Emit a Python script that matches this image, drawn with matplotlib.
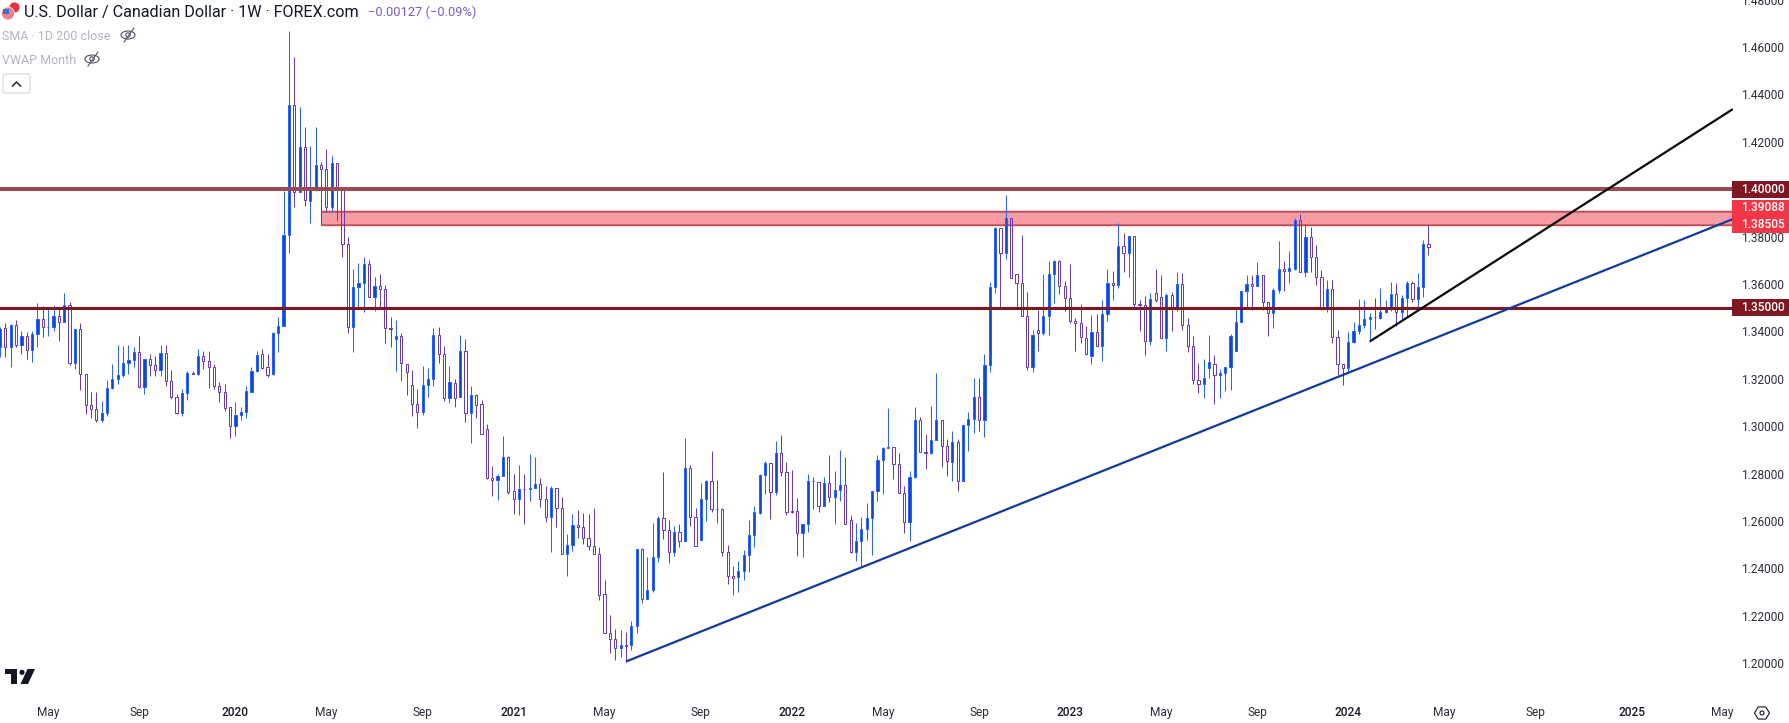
import numpy as np
import matplotlib as m
m.use('Agg')
import matplotlib.pyplot as plt
from matplotlib.patches import Rectangle, Circle, Ellipse, Polygon, FancyBboxPatch
from matplotlib.lines import Line2D
from matplotlib.transforms import Affine2D

plt.rcParams['font.family'] = ['Roboto', 'DejaVu Sans']

# weekly candles, USD/CAD
opens = [
    1.3333,1.3414,1.3333,1.3428,1.3344,1.3382,1.3321,1.3389,1.3452,1.3417,
    1.3420,1.3466,1.3438,1.3511,1.3265,1.3410,1.3220,1.3089,1.3072,1.3026,
    1.3056,1.3160,1.3199,1.3216,1.3265,1.3279,1.3314,1.3164,1.3283,1.3258,
    1.3237,1.3309,1.3192,1.3125,1.3054,1.3140,1.3224,1.3220,1.3297,1.3276,
    1.3251,1.3171,1.3143,1.3079,1.3001,1.3047,1.3058,1.3146,1.3231,1.3304,
    1.3251,1.3220,1.3393,1.3421,1.3807,1.4355,1.3987,1.4179,1.3951,1.3996,
    1.4102,1.4085,1.3923,1.4110,1.4004,1.3769,1.3417,1.3587,1.3604,1.3684,
    1.3544,1.3591,1.3579,1.3414,1.3366,1.3380,1.3262,1.3174,1.3094,1.3058,
    1.3174,1.3199,1.3385,1.3304,1.3119,1.3182,1.3123,1.3317,1.3056,1.3131,
    1.3094,1.2987,1.2781,1.2771,1.2789,1.2869,1.2726,1.2692,1.2736,1.2734,
    1.2738,1.2755,1.2692,1.2616,1.2738,1.2653,1.2460,1.2498,1.2582,1.2574,
    1.2527,1.2494,1.2460,1.2291,1.2127,1.2101,1.2063,1.2076,1.2076,1.2156,
    1.2481,1.2270,1.2307,1.2447,1.2612,1.2561,1.2468,1.2553,1.2515,1.2823,
    1.2616,1.2520,1.2692,1.2768,1.2651,1.2650,1.2468,1.2367,1.2363,1.2388,
    1.2456,1.2540,1.2634,1.2792,1.2844,1.2722,1.2886,1.2806,1.2641,1.2641,
    1.2551,1.2587,1.2769,1.2764,1.2665,1.2760,1.2700,1.2730,1.2751,1.2603,
    1.2470,1.2515,1.2565,1.2612,1.2726,1.2857,1.2906,1.2911,1.2840,1.2717,
    1.2595,1.2785,1.3025,1.2890,1.2886,1.2941,1.3025,1.2916,1.2849,1.2933,
    1.2769,1.3005,1.3030,1.3123,1.3026,1.3258,1.3587,1.3836,1.3731,1.3878,
    1.3642,1.3604,1.3465,1.3250,1.3406,1.3392,1.3465,1.3642,1.3697,1.3591,
    1.3541,1.3444,1.3435,1.3372,1.3296,1.3397,1.3338,1.3473,1.3604,1.3596,
    1.3760,1.3731,1.3802,1.3517,1.3511,1.3359,1.3562,1.3545,1.3372,1.3553,
    1.3494,1.3600,1.3427,1.3338,1.3195,1.3178,1.3245,1.3262,1.3216,1.3224,
    1.3250,1.3317,1.3440,1.3570,1.3598,1.3591,1.3638,1.3523,1.3476,1.3575,
    1.3664,1.3655,1.3664,1.3870,1.3649,1.3798,1.3712,1.3629,1.3493,1.3579,
    1.3376,1.3261,1.3244,1.3355,1.3402,1.3427,1.3452,1.3462,1.3456,1.3482,
    1.3503,1.3558,1.3480,1.3541,1.3604,1.3535,1.3586,1.3769]
highs = [
    1.3417,1.3435,1.3431,1.3449,1.3403,1.3396,1.3403,1.3521,1.3508,1.3504,
    1.3513,1.3504,1.3563,1.3525,1.3410,1.3434,1.3220,1.3143,1.3143,1.3108,
    1.3196,1.3262,1.3342,1.3337,1.3344,1.3333,1.3382,1.3283,1.3304,1.3297,
    1.3342,1.3342,1.3237,1.3136,1.3157,1.3231,1.3234,1.3326,1.3319,1.3316,
    1.3262,1.3185,1.3178,1.3079,1.3103,1.3079,1.3171,1.3251,1.3319,1.3326,
    1.3304,1.3396,1.3459,1.3994,1.4669,1.4559,1.4348,1.4261,1.4184,1.4264,
    1.4116,1.4169,1.4141,1.4110,1.4004,1.3800,1.3665,1.3687,1.3715,1.3703,
    1.3631,1.3643,1.3596,1.3459,1.3449,1.3395,1.3262,1.3238,1.3158,1.3255,
    1.3247,1.3416,1.3420,1.3338,1.3255,1.3199,1.3386,1.3369,1.3171,1.3137,
    1.3112,1.3010,1.2833,1.2799,1.2959,1.2875,1.2799,1.2837,1.2799,1.2883,
    1.2871,1.2781,1.2747,1.2747,1.2738,1.2700,1.2546,1.2629,1.2646,1.2633,
    1.2629,1.2655,1.2489,1.2350,1.2203,1.2145,1.2139,1.2131,1.2177,1.2481,
    1.2485,1.2449,1.2591,1.2620,1.2807,1.2605,1.2579,1.2587,1.2951,1.2835,
    1.2654,1.2761,1.2774,1.2896,1.2774,1.2655,1.2498,1.2411,1.2432,1.2477,
    1.2605,1.2664,1.2797,1.2854,1.2844,1.2938,1.2962,1.2848,1.2816,1.2696,
    1.2587,1.2797,1.2785,1.2764,1.2785,1.2879,1.2812,1.2900,1.2869,1.2626,
    1.2591,1.2617,1.2675,1.2726,1.2879,1.2911,1.3077,1.2911,1.2887,1.2748,
    1.2810,1.3080,1.3038,1.2968,1.3086,1.3225,1.3025,1.2945,1.2980,1.2946,
    1.3005,1.3061,1.3205,1.3205,1.3306,1.3608,1.3840,1.3836,1.3975,1.3878,
    1.3642,1.3807,1.3566,1.3406,1.3490,1.3643,1.3698,1.3701,1.3703,1.3613,
    1.3686,1.3458,1.3517,1.3424,1.3469,1.3473,1.3534,1.3663,1.3655,1.3857,
    1.3815,1.3802,1.3802,1.3532,1.3549,1.3563,1.3663,1.3638,1.3563,1.3566,
    1.3650,1.3646,1.3458,1.3382,1.3268,1.3283,1.3386,1.3302,1.3243,1.3250,
    1.3389,1.3499,1.3570,1.3639,1.3639,1.3694,1.3638,1.3523,1.3583,1.3783,
    1.3698,1.3741,1.3878,1.3897,1.3853,1.3842,1.3764,1.3660,1.3618,1.3618,
    1.3406,1.3261,1.3399,1.3441,1.3537,1.3534,1.3477,1.3541,1.3583,1.3532,
    1.3607,1.3604,1.3555,1.3614,1.3613,1.3648,1.3786,1.3849]
lows = [
    1.3290,1.3293,1.3248,1.3333,1.3304,1.3282,1.3272,1.3335,1.3378,1.3382,
    1.3400,1.3358,1.3438,1.3259,1.3241,1.3153,1.3051,1.3034,1.3016,1.3016,
    1.3044,1.3157,1.3178,1.3209,1.3220,1.3248,1.3161,1.3136,1.3213,1.3210,
    1.3213,1.3171,1.3115,1.3051,1.3041,1.3112,1.3220,1.3217,1.3241,1.3161,
    1.3157,1.3101,1.3063,1.2949,1.2957,1.3026,1.3033,1.3143,1.3227,1.3241,
    1.3206,1.3217,1.3314,1.3421,1.3729,1.3923,1.3987,1.3930,1.3856,1.3993,
    1.3850,1.3902,1.3902,1.3867,1.3712,1.3392,1.3314,1.3504,1.3483,1.3544,
    1.3487,1.3501,1.3350,1.3333,1.3231,1.3189,1.3133,1.3044,1.2991,1.3049,
    1.3125,1.3171,1.3265,1.3108,1.3096,1.3079,1.3123,1.3016,1.2928,1.3033,
    1.2967,1.2776,1.2707,1.2689,1.2788,1.2714,1.2630,1.2626,1.2589,1.2686,
    1.2738,1.2660,1.2596,1.2470,1.2575,1.2460,1.2366,1.2474,1.2530,1.2504,
    1.2478,1.2460,1.2267,1.2127,1.2042,1.2014,1.2027,1.2007,1.2056,1.2129,
    1.2252,1.2270,1.2302,1.2428,1.2526,1.2423,1.2451,1.2491,1.2515,1.2581,
    1.2494,1.2518,1.2601,1.2636,1.2592,1.2454,1.2335,1.2288,1.2302,1.2352,
    1.2385,1.2491,1.2629,1.2713,1.2609,1.2710,1.2788,1.2624,1.2633,1.2453,
    1.2449,1.2554,1.2651,1.2636,1.2664,1.2682,1.2588,1.2684,1.2587,1.2466,
    1.2432,1.2408,1.2520,1.2457,1.2685,1.2713,1.2906,1.2778,1.2717,1.2550,
    1.2515,1.2781,1.2890,1.2820,1.2883,1.2941,1.2826,1.2790,1.2767,1.2725,
    1.2769,1.2894,1.2970,1.2980,1.2953,1.3227,1.3560,1.3501,1.3704,1.3625,
    1.3496,1.3465,1.3236,1.3227,1.3316,1.3385,1.3385,1.3518,1.3558,1.3486,
    1.3435,1.3319,1.3350,1.3299,1.3261,1.3338,1.3274,1.3444,1.3534,1.3583,
    1.3652,1.3631,1.3504,1.3403,1.3299,1.3341,1.3523,1.3372,1.3316,1.3403,
    1.3485,1.3404,1.3312,1.3178,1.3139,1.3119,1.3203,1.3092,1.3117,1.3147,
    1.3151,1.3317,1.3440,1.3496,1.3490,1.3591,1.3492,1.3379,1.3416,1.3560,
    1.3569,1.3605,1.3659,1.3649,1.3628,1.3652,1.3594,1.3490,1.3480,1.3350,
    1.3217,1.3175,1.3223,1.3350,1.3389,1.3414,1.3358,1.3411,1.3452,1.3479,
    1.3485,1.3424,1.3452,1.3459,1.3523,1.3487,1.3546,1.3724]
closes = [
    1.3410,1.3333,1.3427,1.3344,1.3382,1.3321,1.3389,1.3452,1.3417,1.3420,
    1.3466,1.3438,1.3511,1.3265,1.3410,1.3220,1.3089,1.3072,1.3026,1.3056,
    1.3160,1.3199,1.3216,1.3267,1.3279,1.3314,1.3164,1.3283,1.3258,1.3237,
    1.3309,1.3192,1.3122,1.3054,1.3140,1.3224,1.3220,1.3297,1.3276,1.3248,
    1.3171,1.3143,1.3077,1.3001,1.3047,1.3061,1.3150,1.3234,1.3300,1.3244,
    1.3217,1.3393,1.3424,1.3807,1.4355,1.3987,1.4179,1.3953,1.3996,1.4102,
    1.4085,1.3923,1.4110,1.4004,1.3769,1.3417,1.3587,1.3604,1.3684,1.3544,
    1.3591,1.3579,1.3413,1.3410,1.3380,1.3265,1.3227,1.3094,1.3058,1.3174,
    1.3199,1.3385,1.3304,1.3119,1.3186,1.3119,1.3317,1.3056,1.3131,1.3089,
    1.2967,1.2781,1.2771,1.2789,1.2869,1.2724,1.2692,1.2734,1.2733,1.2740,
    1.2755,1.2692,1.2616,1.2738,1.2653,1.2460,1.2498,1.2582,1.2574,1.2527,
    1.2494,1.2460,1.2287,1.2127,1.2101,1.2063,1.2076,1.2073,1.2156,1.2481,
    1.2269,1.2308,1.2447,1.2612,1.2561,1.2468,1.2553,1.2515,1.2823,1.2616,
    1.2494,1.2692,1.2768,1.2650,1.2649,1.2468,1.2367,1.2361,1.2388,1.2456,
    1.2540,1.2637,1.2795,1.2844,1.2722,1.2886,1.2806,1.2637,1.2637,1.2551,
    1.2587,1.2768,1.2767,1.2665,1.2760,1.2700,1.2730,1.2751,1.2587,1.2470,
    1.2515,1.2565,1.2612,1.2726,1.2857,1.2907,1.2911,1.2840,1.2717,1.2595,
    1.2785,1.3025,1.2890,1.2886,1.2941,1.3025,1.2916,1.2852,1.2933,1.2769,
    1.3005,1.3030,1.3123,1.3026,1.3258,1.3587,1.3836,1.3731,1.3878,1.3625,
    1.3604,1.3465,1.3250,1.3385,1.3392,1.3465,1.3642,1.3697,1.3591,1.3541,
    1.3444,1.3434,1.3376,1.3303,1.3397,1.3338,1.3473,1.3604,1.3596,1.3760,
    1.3731,1.3802,1.3514,1.3513,1.3359,1.3537,1.3532,1.3372,1.3553,1.3494,
    1.3600,1.3427,1.3338,1.3195,1.3178,1.3203,1.3271,1.3216,1.3224,1.3250,
    1.3380,1.3440,1.3570,1.3600,1.3590,1.3638,1.3523,1.3476,1.3575,1.3662,
    1.3653,1.3667,1.3871,1.3649,1.3798,1.3712,1.3628,1.3493,1.3579,1.3375,
    1.3261,1.3244,1.3355,1.3402,1.3427,1.3452,1.3461,1.3459,1.3482,1.3503,
    1.3558,1.3480,1.3541,1.3604,1.3535,1.3587,1.3769,1.3756]

# levels and trendlines
level_round = [1.40, 1.35]
zone_low = 1.38505
zone_high = 1.39088
zone_start = 60
rising_x = [117, 323.9]
rising_y = [1.2007, 1.3874]
short_x = [256, 323.9]
short_y = [1.3357, 1.4338]

# axis labels, positions are bar numbers
price_ticks = [1.20, 1.22, 1.24, 1.26, 1.28, 1.30, 1.32, 1.34, 1.36, 1.38,
               1.40, 1.42, 1.44, 1.46, 1.48]
time_ticks = [9, 26, 44, 61, 79, 96, 113, 131, 148, 165, 183, 200, 217, 235,
              252, 270, 287, 305, 322]
time_labels = ['May', 'Sep', '2020', 'May', 'Sep', '2021', 'May', 'Sep', '2022',
               'May', 'Sep', '2023', 'May', 'Sep', '2024', 'May', 'Sep', '2025', 'May']

W, H = 1789, 723
BLUE = '#2962FF'
BLUE_FILL = '#0F49C9'
PURPLE = '#673AB7'
TEXT = '#2A2E39'

fig = plt.figure(figsize=(W / 100, H / 100), dpi=100, facecolor='white')
ax = fig.add_axes([0, 30 / H, 1733 / W, 695 / H])
ax.set_xlim(0, 1733 / 5.35)
ax.set_ylim(1.40 - (693 - 189.2) / 2370, 1.40 + (189.2 + 2) / 2370)
for s in ax.spines.values():
    s.set_visible(False)

o = np.array(opens)
h = np.array(highs)
l = np.array(lows)
c = np.array(closes)
x = np.arange(len(o))
up = c >= o
top = np.maximum(o, c)
bot = np.minimum(o, c)
body_w = 2.2 / 5.35

ax.add_patch(Rectangle((zone_start, zone_low), 400, zone_high - zone_low, fc='#F89BA3', ec='none', zorder=1))
ax.hlines([zone_high - 0.0005, zone_low + 0.0004], zone_start, 400, color='#8E8A92', lw=0.72, zorder=1.1)
ax.hlines([zone_high, zone_low], zone_start, 400, color='#F23645', lw=1.0, zorder=1.2)

for mask, col in [(up, BLUE), (~up, PURPLE)]:
    ax.vlines(x[mask], top[mask], h[mask], color=col, lw=0.72, zorder=2)
    ax.vlines(x[mask], l[mask], bot[mask], color=col, lw=0.72, zorder=2)
ax.bar(x[up], (top - bot)[up], body_w, bot[up], facecolor=BLUE_FILL, edgecolor=BLUE, linewidth=0.72, zorder=3)
ax.bar(x[~up], (top - bot)[~up], body_w, bot[~up], facecolor='none', edgecolor=PURPLE, linewidth=0.72, zorder=3)

ax.axhline(level_round[0], color='#9C4A52', lw=2.9, zorder=4)
ax.axhline(level_round[1], color='#7F1722', lw=2.2, zorder=4)
ax.plot(rising_x, rising_y, color='#103A9E', lw=1.6, zorder=5, solid_capstyle='butt')
ax.plot(short_x, short_y, color='#0A0A0A', lw=1.6, zorder=5, solid_capstyle='butt')

ax.yaxis.tick_right()
ax.set_yticks(price_ticks)
ax.set_yticklabels(['%.5f' % p for p in price_ticks])
ax.set_xticks(time_ticks)
ax.set_xticklabels(time_labels)
ax.tick_params(axis='y', length=0, pad=5.8, labelsize=8.6, labelcolor=TEXT)
ax.tick_params(axis='x', length=0, pad=9.2, labelsize=8.6, labelcolor=TEXT)
for t in ax.get_xticklabels():
    if t.get_text().isdigit():
        t.set_color('#131722')
        t.set_fontweight('medium')

# the rest is chart furniture, placed in picture pixels
px = Affine2D().scale(1, -1).translate(0, H)


def add(artist):
    artist.set_transform(px)
    fig.add_artist(artist)


def pxtext(xp, yp, s, **kw):
    fig.text(xp, yp, s, transform=px, va='center', **kw)


def tag(y0, y1, col):
    add(Rectangle((1732, y0), 57, y1 - y0, fc=col, ec='none'))


tag(181, 198, '#7F1722')
tag(199.5, 233, '#F23645')
tag(299, 316, '#7F1722')
for yp, label in [(189.5, '1.40000'), (207.8, '1.39088'), (224.5, '1.38505'), (307.5, '1.35000')]:
    pxtext(1741, yp, label, color='white', fontsize=8.6, fontweight='medium')

pxtext(24, 12, 'U.S. Dollar / Canadian Dollar · 1W · FOREX.com', color='#131722', fontsize=11.6)
pxtext(368, 12, '−0.00127 (−0.09%)', color='#7E5BC4', fontsize=9.3)
pxtext(2, 36, 'SMA · 1D 200 close', color='#B2B5BE', fontsize=9.0)
pxtext(2, 60, 'VWAP Month', color='#B2B5BE', fontsize=9.0)

# flag badge
add(Circle((14.5, 7.5), 5.5, fc='#E0343E', ec='white', lw=0.5))
add(Circle((8, 13.5), 6.5, fc='#F0808A', ec='white', lw=0.5))
add(Rectangle((2.5, 9), 6, 5, fc='#3B6FD8', ec='none'))

# hidden-study eye icons
for ex, ey in [(128, 35), (92, 59)]:
    add(Ellipse((ex, ey), 14, 8, fc='none', ec='#50535E', lw=0.8))
    add(Circle((ex, ey), 2.2, fc='none', ec='#50535E', lw=0.8))
    add(Line2D([ex - 4, ex + 6], [ey + 7, ey - 7], color='#50535E', lw=0.8))

# collapse button
add(FancyBboxPatch((3, 74), 27, 19, boxstyle='round,pad=0,rounding_size=2', fc='white', ec='#D1D4DC', lw=0.8))
add(Line2D([12.5, 16.5, 20.5], [86, 82, 86], color='#131722', lw=1.0))

# logo
add(Polygon([(5, 669), (17, 669), (17, 684), (11, 684), (11, 674), (5, 674)], fc='#131722', ec='none'))
add(Circle((22, 672.3), 2.6, fc='#131722', ec='none'))
add(Polygon([(27.5, 669), (35, 669), (28, 684), (20.5, 684)], fc='#131722', ec='none'))

# settings hexagon
ang = np.radians([0, 60, 120, 180, 240, 300])
add(Polygon(np.c_[1762 + 7.5 * np.cos(ang), 713 + 7 * np.sin(ang)], fc='none', ec='#131722', lw=0.8))
add(Circle((1762, 713), 2, fc='none', ec='#131722', lw=0.8))

fig.savefig('out.png', dpi=100, facecolor='white')
